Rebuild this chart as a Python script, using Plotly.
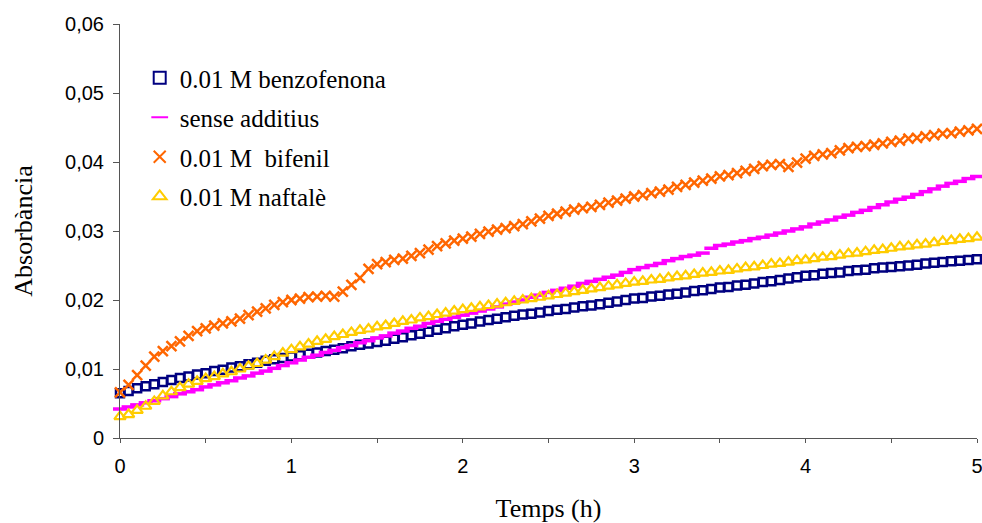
import plotly.graph_objects as go

time_h = [round(i * 0.05, 2) for i in range(101)]

benzofenona = [
    0.0065, 0.0068, 0.0072, 0.0075, 0.0078, 0.0081, 0.0084, 0.0087, 0.0089, 0.0092,
    0.0094, 0.0097, 0.0099, 0.0102, 0.0104, 0.0107, 0.0109, 0.0112, 0.0114, 0.0116,
    0.0118, 0.0120, 0.0122, 0.0124, 0.0126, 0.0128, 0.0130, 0.0133, 0.0135, 0.0137,
    0.0139, 0.0141, 0.0144, 0.0146, 0.0149, 0.0151, 0.0154, 0.0157, 0.0159, 0.0162,
    0.0164, 0.0166, 0.0169, 0.0171, 0.0173, 0.0175, 0.0177, 0.0179, 0.0180, 0.0182,
    0.0184, 0.0186, 0.0187, 0.0189, 0.0191, 0.0192, 0.0194, 0.0196, 0.0198, 0.0200,
    0.0202, 0.0203, 0.0205, 0.0206, 0.0208, 0.0209, 0.0211, 0.0213, 0.0214, 0.0216,
    0.0218, 0.0219, 0.0221, 0.0222, 0.0224, 0.0226, 0.0227, 0.0229, 0.0231, 0.0233,
    0.0235, 0.0236, 0.0238, 0.0239, 0.0240, 0.0242, 0.0243, 0.0244, 0.0246, 0.0247,
    0.0248, 0.0249, 0.0250, 0.0251, 0.0253, 0.0254, 0.0255, 0.0256, 0.0257, 0.0258,
    0.0259,
]

sense_additius = [
    0.0042, 0.0045, 0.0048, 0.0051, 0.0054, 0.0057, 0.0060, 0.0064, 0.0067, 0.0070,
    0.0074, 0.0077, 0.0080, 0.0083, 0.0087, 0.0090, 0.0094, 0.0097, 0.0101, 0.0105,
    0.0109, 0.0113, 0.0117, 0.0120, 0.0124, 0.0127, 0.0131, 0.0134, 0.0138, 0.0141,
    0.0145, 0.0148, 0.0152, 0.0155, 0.0159, 0.0162, 0.0166, 0.0169, 0.0172, 0.0175,
    0.0178, 0.0181, 0.0184, 0.0187, 0.0190, 0.0194, 0.0197, 0.0200, 0.0204, 0.0207,
    0.0211, 0.0214, 0.0217, 0.0220, 0.0224, 0.0227, 0.0230, 0.0233, 0.0236, 0.0240,
    0.0244, 0.0247, 0.0250, 0.0253, 0.0257, 0.0260, 0.0263, 0.0265, 0.0268, 0.0275,
    0.0279, 0.0281, 0.0284, 0.0286, 0.0289, 0.0291, 0.0294, 0.0297, 0.0300, 0.0303,
    0.0306, 0.0310, 0.0313, 0.0316, 0.0320, 0.0323, 0.0327, 0.0330, 0.0334, 0.0338,
    0.0342, 0.0346, 0.0349, 0.0353, 0.0357, 0.0361, 0.0365, 0.0369, 0.0372, 0.0376,
    0.0379,
]

bifenil = [
    0.0066, 0.0077, 0.0091, 0.0105, 0.0118, 0.0126, 0.0133, 0.0140, 0.0148, 0.0155,
    0.0159, 0.0163, 0.0166, 0.0169, 0.0173, 0.0178, 0.0183, 0.0188, 0.0193, 0.0197,
    0.0200, 0.0202, 0.0204, 0.0205, 0.0206, 0.0205, 0.0212, 0.0222, 0.0232, 0.0245,
    0.0252, 0.0255, 0.0258, 0.0260, 0.0264, 0.0268, 0.0273, 0.0278, 0.0282, 0.0286,
    0.0289, 0.0292, 0.0296, 0.0299, 0.0302, 0.0304, 0.0307, 0.0310, 0.0314, 0.0318,
    0.0322, 0.0325, 0.0328, 0.0331, 0.0333, 0.0335, 0.0338, 0.0341, 0.0344, 0.0347,
    0.0350, 0.0352, 0.0355, 0.0357, 0.0360, 0.0364, 0.0367, 0.0370, 0.0373, 0.0376,
    0.0379, 0.0381, 0.0384, 0.0387, 0.0390, 0.0394, 0.0396, 0.0397, 0.0393, 0.0399,
    0.0405, 0.0409, 0.0411, 0.0413, 0.0417, 0.0420, 0.0422, 0.0423, 0.0425, 0.0427,
    0.0429, 0.0431, 0.0434, 0.0435, 0.0437, 0.0439, 0.0441, 0.0442, 0.0444, 0.0446,
    0.0448,
]

naftale = [
    0.0031, 0.0034, 0.0040, 0.0046, 0.0053, 0.0061, 0.0067, 0.0073, 0.0078, 0.0082,
    0.0086, 0.0089, 0.0093, 0.0096, 0.0100, 0.0104, 0.0108, 0.0113, 0.0118, 0.0123,
    0.0128, 0.0132, 0.0136, 0.0140, 0.0143, 0.0147, 0.0150, 0.0153, 0.0156, 0.0158,
    0.0161, 0.0163, 0.0166, 0.0169, 0.0171, 0.0174, 0.0176, 0.0179, 0.0181, 0.0184,
    0.0186, 0.0188, 0.0190, 0.0192, 0.0194, 0.0196, 0.0198, 0.0200, 0.0202, 0.0204,
    0.0206, 0.0208, 0.0210, 0.0212, 0.0214, 0.0216, 0.0218, 0.0220, 0.0222, 0.0224,
    0.0226, 0.0227, 0.0229, 0.0230, 0.0232, 0.0234, 0.0235, 0.0237, 0.0239, 0.0240,
    0.0242, 0.0243, 0.0245, 0.0247, 0.0248, 0.0250, 0.0252, 0.0253, 0.0255, 0.0257,
    0.0258, 0.0260, 0.0262, 0.0263, 0.0265, 0.0267, 0.0268, 0.0270, 0.0272, 0.0273,
    0.0275, 0.0277, 0.0278, 0.0280, 0.0281, 0.0283, 0.0285, 0.0286, 0.0288, 0.0289,
    0.0291,
]

series_names = ["0.01 M benzofenona", "sense additius", "0.01 M\u00a0 bifenil", "0.01 M naftalè"]

x_tick_vals = [0, 0.5, 1, 1.5, 2, 2.5, 3, 3.5, 4, 4.5, 5]
x_tick_labels = ["0", "", "1", "", "2", "", "3", "", "4", "", "5"]
y_tick_vals = [0, 0.01, 0.02, 0.03, 0.04, 0.05, 0.06]
y_tick_labels = ["0", "0,01", "0,02", "0,03", "0,04", "0,05", "0,06"]

SERIF = "Liberation Serif"
SANS = "Liberation Sans"

fig = go.Figure()

styles = [
    dict(symbol="square-open", size=8, color="#000080", lw=2.5),
    dict(symbol="line-ew", size=10, color="#FF00FF", lw=3.5),
    dict(symbol="x-thin-open", size=10, color="#FF6600", lw=2.5),
    dict(symbol="triangle-up-open", size=10, color="#FFCC00", lw=2.2),
]
data = [benzofenona, sense_additius, bifenil, naftale]

for i, (name, ys, st) in enumerate(zip(series_names, data, styles)):
    fig.add_trace(go.Scatter(
        x=time_h, y=ys, name=name, mode="markers",
        legendgroup=f"g{i}",
        cliponaxis=False,
        marker=dict(symbol=st["symbol"], size=st["size"], color=st["color"],
                    line=dict(color=st["color"], width=st["lw"])),
    ))

fig.update_layout(
    width=982, height=523,
    margin=dict(l=120, r=5, t=24, b=85, autoexpand=False),
    paper_bgcolor="white", plot_bgcolor="white",
    showlegend=True,
    legend=dict(
        x=0.023, y=0.925, xanchor="left", yanchor="top",
        font=dict(family=SERIF, size=25, color="#000000"),
        bgcolor="rgba(0,0,0,0)", tracegroupgap=4,
        itemsizing="constant",
    ),
    xaxis=dict(
        range=[0, 5], tickvals=x_tick_vals, ticktext=x_tick_labels,
        showline=True, linecolor="#555555", linewidth=1,
        ticks="outside", ticklen=4, tickcolor="#555555",
        showgrid=False, zeroline=False,
        tickfont=dict(family=SANS, size=20, color="#000000"),
        ticklabelstandoff=6, ticklabeloverflow="allow",
        title=dict(text="Temps (h)", font=dict(family=SERIF, size=26, color="#000000"), standoff=22),
    ),
    yaxis=dict(
        range=[0, 0.06], tickvals=y_tick_vals, ticktext=y_tick_labels,
        showline=True, linecolor="#555555", linewidth=1,
        ticks="outside", ticklen=6, tickcolor="#555555",
        showgrid=False, zeroline=False,
        tickfont=dict(family=SANS, size=20, color="#000000"),
        ticklabelstandoff=5,
        title=dict(text="Absorbància", font=dict(family=SERIF, size=26, color="#000000"), standoff=24),
    ),
)

fig.write_html(
    "out.html",
    config={"displayModeBar": False},
    post_script="document.body.style.margin='0';document.body.style.overflow='hidden';",
)
